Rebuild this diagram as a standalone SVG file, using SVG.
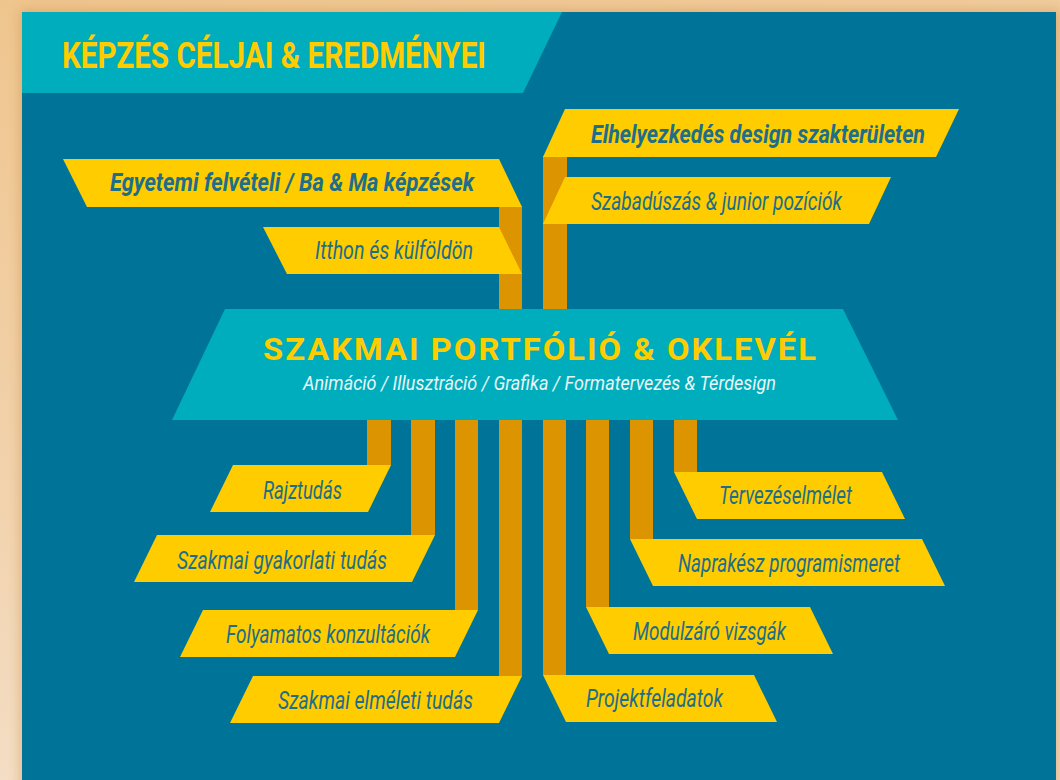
<svg xmlns="http://www.w3.org/2000/svg" width="1060" height="780" viewBox="0 0 1060 780">
  <defs>
    <linearGradient id="bg" x1="0" y1="0" x2="0.3" y2="1">
      <stop offset="0" stop-color="#efc58e"/>
      <stop offset="0.6" stop-color="#f2d3ae"/>
      <stop offset="1" stop-color="#f4e0ca"/>
    </linearGradient>
    <filter id="shadow" x="-5%" y="-5%" width="110%" height="110%">
      <feGaussianBlur stdDeviation="6"/>
    </filter>
    <style>
      .box { fill: #ffcc00; }
      .bar { fill: #dc9500; }
      .lbl { font-family: "Roboto", "Liberation Sans", sans-serif; font-style: italic; font-size: 25px; fill: #1d6e8b; }
      .b { font-weight: bold; font-size: 26px; }
    </style>
  </defs>

  <rect x="0" y="0" width="1060" height="780" fill="url(#bg)"/>
  <rect x="20" y="10" width="1040" height="780" fill="#c98a45" opacity="0.45" filter="url(#shadow)"/>
  <rect x="22" y="12" width="1034" height="770" fill="#007399"/>

  <g id="header">
    <polygon points="22,12 562,12 523,93 22,93" fill="#00adbd"/>
    <text x="62" y="68" font-family="Roboto, 'Liberation Sans', sans-serif" font-weight="bold" font-size="37" fill="#ffcc00" textLength="424" lengthAdjust="spacingAndGlyphs">KÉPZÉS CÉLJAI &amp; EREDMÉNYEI</text>
  </g>

  <g id="connectors">
    <rect class="bar" x="499" y="206" width="23" height="108"/>
    <rect class="bar" x="543" y="156" width="24" height="158"/>
    <rect class="bar" x="367" y="415" width="24" height="50"/>
    <rect class="bar" x="411" y="415" width="24" height="120"/>
    <rect class="bar" x="455" y="415" width="23" height="195"/>
    <rect class="bar" x="499" y="415" width="23" height="261"/>
    <rect class="bar" x="543" y="415" width="23" height="260"/>
    <rect class="bar" x="586" y="415" width="23" height="192"/>
    <rect class="bar" x="630" y="415" width="23" height="124"/>
    <rect class="bar" x="674" y="415" width="23" height="57"/>
  </g>

  <g id="center">
    <polygon points="225,309 843,309 898,420 172,420" fill="#00adbd"/>
    <text x="263" y="360" font-family="Roboto, 'Liberation Sans', sans-serif" font-weight="bold" font-size="32" letter-spacing="2" fill="#ffcc00" textLength="555" lengthAdjust="spacingAndGlyphs">SZAKMAI PORTFÓLIÓ &amp; OKLEVÉL</text>
    <text x="303" y="390" font-family="Roboto, 'Liberation Sans', sans-serif" font-style="italic" font-size="20" fill="#e8f6f8" textLength="473" lengthAdjust="spacingAndGlyphs">Animáció / Illusztráció / Grafika / Formatervezés &amp; Térdesign</text>
  </g>

  <g id="n-egyetemi">
    <polygon class="box" points="63,159 499,159 522,207 87,207"/>
    <text class="lbl b" x="110" y="191" textLength="364" lengthAdjust="spacingAndGlyphs">Egyetemi felvételi / Ba &amp; Ma  képzések</text>
  </g>
  <g id="n-itthon">
    <polygon class="box" points="263,227 499,227 522,274 287,274"/>
    <text class="lbl" x="315" y="259" textLength="158" lengthAdjust="spacingAndGlyphs">Itthon és külföldön</text>
  </g>
  <g id="n-elhelyezkedes">
    <polygon class="box" points="565,109 959,109 936,157 543,157"/>
    <text class="lbl b" x="591" y="143" textLength="334" lengthAdjust="spacingAndGlyphs">Elhelyezkedés design szakterületen</text>
  </g>
  <g id="n-szabaduszas">
    <polygon class="box" points="565,177 891,177 869,224 543,224"/>
    <text class="lbl" x="591" y="210" textLength="251" lengthAdjust="spacingAndGlyphs">Szabadúszás &amp; junior pozíciók</text>
  </g>

  <g id="n-rajztudas">
    <polygon class="box" points="233,465 391,465 368,512 210,512"/>
    <text class="lbl" x="263" y="499" textLength="79" lengthAdjust="spacingAndGlyphs">Rajztudás</text>
  </g>
  <g id="n-gyakorlati">
    <polygon class="box" points="157,535 435,535 412,582 134,582"/>
    <text class="lbl" x="177" y="569" textLength="210" lengthAdjust="spacingAndGlyphs">Szakmai gyakorlati tudás</text>
  </g>
  <g id="n-folyamatos">
    <polygon class="box" points="203,610 478,610 455,657 180,657"/>
    <text class="lbl" x="226" y="643" textLength="204" lengthAdjust="spacingAndGlyphs">Folyamatos konzultációk</text>
  </g>
  <g id="n-elmeleti">
    <polygon class="box" points="253,676 522,676 499,723 230,723"/>
    <text class="lbl" x="278" y="709" textLength="195" lengthAdjust="spacingAndGlyphs">Szakmai elméleti tudás</text>
  </g>

  <g id="n-tervezes">
    <polygon class="box" points="674,472 882,472 905,519 697,519"/>
    <text class="lbl" x="719" y="504" textLength="133" lengthAdjust="spacingAndGlyphs">Tervezéselmélet</text>
  </g>
  <g id="n-naprakesz">
    <polygon class="box" points="630,539 922,539 945,586 653,586"/>
    <text class="lbl" x="678" y="572" textLength="222" lengthAdjust="spacingAndGlyphs">Naprakész programismeret</text>
  </g>
  <g id="n-modulzaro">
    <polygon class="box" points="586,607 810,607 833,654 609,654"/>
    <text class="lbl" x="633" y="640" textLength="153" lengthAdjust="spacingAndGlyphs">Modulzáró vizsgák</text>
  </g>
  <g id="n-projekt">
    <polygon class="box" points="543,675 754,675 777,722 566,722"/>
    <text class="lbl" x="586" y="707" textLength="137" lengthAdjust="spacingAndGlyphs">Projektfeladatok</text>
  </g>
</svg>
